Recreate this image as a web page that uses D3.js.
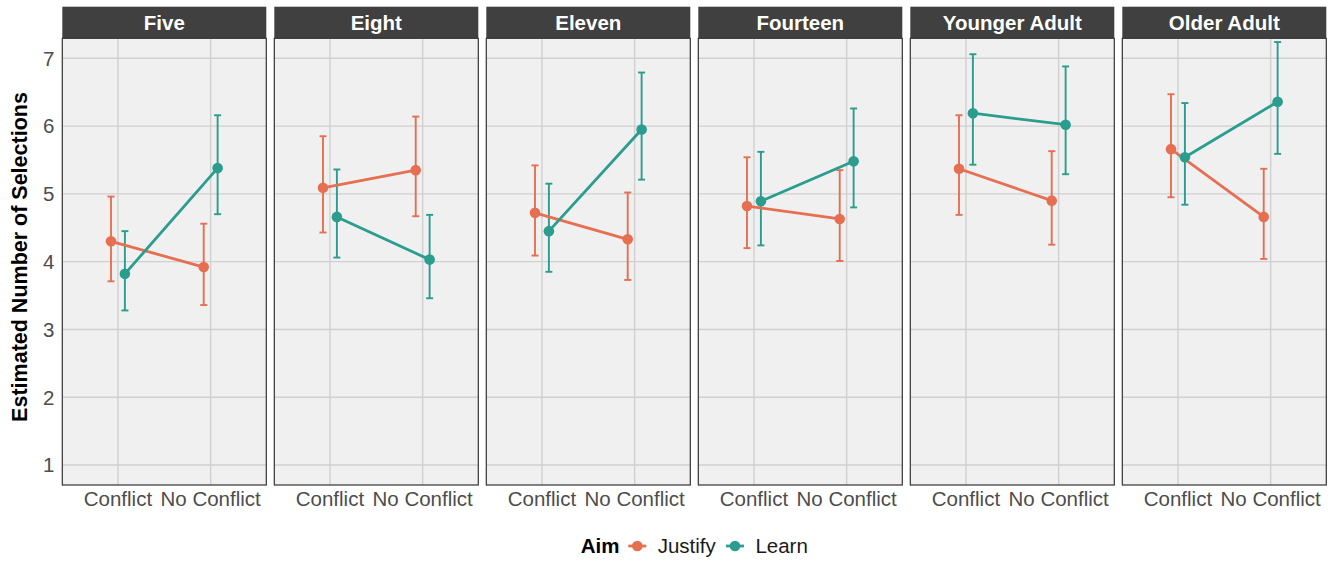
<!DOCTYPE html>
<html>
<head>
<meta charset="utf-8">
<script src="https://cdn.jsdelivr.net/npm/d3@7"></script>
<style>
  body { margin: 0; background: #fff; }
  svg { font-family: "Liberation Sans", Arial, sans-serif; }
</style>
</head>
<body>
<div id="chart"></div>
<script>
// Data
const PANELS = ['Five', 'Eight', 'Eleven', 'Fourteen', 'Younger Adult', 'Older Adult'];
const CONDITIONS = ['Conflict', 'No Conflict'];
const AIMS = ['Justify', 'Learn'];
const Y_TICKS = [1, 2, 3, 4, 5, 6, 7];

// per panel: [Conflict, No Conflict]
const justifyMean = [[4.30, 3.92], [5.09, 5.35], [4.72, 4.33], [4.82, 4.63], [5.37, 4.90], [5.66, 4.66]];
const justifyLow  = [[3.71, 3.36], [4.43, 4.67], [4.09, 3.73], [4.20, 4.01], [4.69, 4.25], [4.95, 4.04]];
const justifyHigh = [[4.96, 4.56], [5.85, 6.14], [5.42, 5.02], [5.54, 5.35], [6.16, 5.63], [6.47, 5.37]];
const learnMean   = [[3.82, 5.38], [4.66, 4.03], [4.45, 5.95], [4.89, 5.48], [6.19, 6.02], [5.54, 6.36]];
const learnLow    = [[3.28, 4.70], [4.06, 3.46], [3.85, 5.21], [4.24, 4.80], [5.43, 5.29], [4.84, 5.59]];
const learnHigh   = [[4.45, 6.16], [5.36, 4.69], [5.15, 6.79], [5.62, 6.26], [7.06, 6.88], [6.34, 7.24]];

const COLORS = { Justify: '#E76F51', Learn: '#2A9D8F' };

const WIDTH = 1334;
const HEIGHT = 561;
const PANEL_LEFT = 62.3;
const PANEL_WIDTH = 204;
const PANEL_STEP = 212;
const STRIP_TOP = 6.7;
const PANEL_TOP = 38.3;
const PANEL_BOTTOM = 485;
const DODGE = 0.075;
const FONT = 20.5;

const svg = d3.select('#chart')
  .append('svg')
  .attr('width', WIDTH)
  .attr('height', HEIGHT);

const yScale = d3.scaleLinear()
  .domain([0.705, 7.295])
  .range([PANEL_BOTTOM, PANEL_TOP]);

const series = {
  Justify: { mean: justifyMean, low: justifyLow, high: justifyHigh },
  Learn: { mean: learnMean, low: learnLow, high: learnHigh }
};

PANELS.forEach((panel, pi) => {
  const x0 = PANEL_LEFT + pi * PANEL_STEP;
  const xScale = d3.scalePoint()
    .domain(CONDITIONS)
    .range([x0, x0 + PANEL_WIDTH])
    .padding(0.6);
  const step = xScale.step();

  const g = svg.append('g').attr('class', 'panel');

  // panel background
  g.append('rect')
    .attr('x', x0)
    .attr('y', PANEL_TOP)
    .attr('width', PANEL_WIDTH)
    .attr('height', PANEL_BOTTOM - PANEL_TOP)
    .attr('fill', '#F0F0F0');

  // grid lines
  g.selectAll('line.hgrid')
    .data(Y_TICKS)
    .join('line')
    .attr('class', 'hgrid')
    .attr('x1', x0)
    .attr('x2', x0 + PANEL_WIDTH)
    .attr('y1', d => yScale(d))
    .attr('y2', d => yScale(d))
    .attr('stroke', '#D0D0D0')
    .attr('stroke-width', 1.4);

  g.selectAll('line.vgrid')
    .data(CONDITIONS)
    .join('line')
    .attr('class', 'vgrid')
    .attr('x1', d => xScale(d))
    .attr('x2', d => xScale(d))
    .attr('y1', PANEL_TOP)
    .attr('y2', PANEL_BOTTOM)
    .attr('stroke', '#D0D0D0')
    .attr('stroke-width', 1.4);

  // strip
  g.append('rect')
    .attr('x', x0)
    .attr('y', STRIP_TOP)
    .attr('width', PANEL_WIDTH)
    .attr('height', PANEL_TOP - STRIP_TOP)
    .attr('fill', '#404040');
  g.append('text')
    .attr('x', x0 + PANEL_WIDTH / 2)
    .attr('y', 23.3)
    .attr('dy', '0.35em')
    .attr('text-anchor', 'middle')
    .attr('fill', '#fff')
    .attr('font-weight', 'bold')
    .attr('font-size', FONT)
    .text(panel);

  // x axis labels
  g.selectAll('text.xtick')
    .data(CONDITIONS)
    .join('text')
    .attr('class', 'xtick')
    .attr('x', d => xScale(d))
    .attr('y', 506)
    .attr('text-anchor', 'middle')
    .attr('fill', '#4D4D4D')
    .attr('font-size', FONT)
    .text(d => d);

  const rows = AIMS.map((aim, ai) => ({
    aim,
    pts: CONDITIONS.map((c, ci) => ({
      x: xScale(c) + (ai === 0 ? -DODGE : DODGE) * step,
      mean: series[aim].mean[pi][ci],
      low: series[aim].low[pi][ci],
      high: series[aim].high[pi][ci]
    }))
  }));

  // error bars
  rows.forEach(r => {
    const eb = g.append('g').attr('stroke', COLORS[r.aim]).attr('stroke-width', 1.9);
    eb.selectAll('line.v')
      .data(r.pts)
      .join('line')
      .attr('x1', d => d.x).attr('x2', d => d.x)
      .attr('y1', d => yScale(d.low)).attr('y2', d => yScale(d.high));
    ['low', 'high'].forEach(k => {
      eb.selectAll('line.' + k)
        .data(r.pts)
        .join('line')
        .attr('class', k)
        .attr('x1', d => d.x - 3.5).attr('x2', d => d.x + 3.5)
        .attr('y1', d => yScale(d[k])).attr('y2', d => yScale(d[k]));
    });
  });

  // lines
  const line = d3.line().x(d => d.x).y(d => yScale(d.mean));
  rows.forEach(r => {
    g.append('path')
      .datum(r.pts)
      .attr('d', line)
      .attr('fill', 'none')
      .attr('stroke', COLORS[r.aim])
      .attr('stroke-width', 2.8);
  });

  // points
  rows.forEach(r => {
    g.selectAll('circle.' + r.aim)
      .data(r.pts)
      .join('circle')
      .attr('cx', d => d.x)
      .attr('cy', d => yScale(d.mean))
      .attr('r', 5.3)
      .attr('fill', COLORS[r.aim]);
  });

  // border
  g.append('rect')
    .attr('x', x0)
    .attr('y', PANEL_TOP)
    .attr('width', PANEL_WIDTH)
    .attr('height', PANEL_BOTTOM - PANEL_TOP)
    .attr('fill', 'none')
    .attr('stroke', '#333')
    .attr('stroke-width', 1.2);
});

// y axis labels
svg.append('g')
  .selectAll('text')
  .data(Y_TICKS)
  .join('text')
  .attr('x', 54.3)
  .attr('y', d => yScale(d))
  .attr('dy', '0.36em')
  .attr('text-anchor', 'end')
  .attr('fill', '#4D4D4D')
  .attr('font-size', FONT)
  .text(d => d);

svg.append('text')
  .attr('transform', 'translate(27, 257) rotate(-90)')
  .attr('text-anchor', 'middle')
  .attr('font-weight', 'bold')
  .attr('font-size', 21.5)
  .attr('fill', '#000')
  .text('Estimated Number of Selections');

// legend
const legend = svg.append('g').attr('transform', 'translate(0, 546)');
legend.append('text')
  .attr('x', 580.7)
  .attr('dy', '0.36em')
  .attr('font-weight', 'bold')
  .attr('font-size', FONT)
  .text('Aim');
const legendX = { Justify: 637.3, Learn: 735 };
AIMS.forEach(aim => {
  const cx = legendX[aim];
  legend.append('line')
    .attr('x1', cx - 9).attr('x2', cx + 9)
    .attr('stroke', COLORS[aim])
    .attr('stroke-width', 2.8);
  legend.append('circle')
    .attr('cx', cx)
    .attr('r', 5.3)
    .attr('fill', COLORS[aim]);
  legend.append('text')
    .attr('x', cx + 20.4)
    .attr('dy', '0.36em')
    .attr('font-size', FONT)
    .attr('fill', '#1a1a1a')
    .text(aim);
});
</script>
</body>
</html>
